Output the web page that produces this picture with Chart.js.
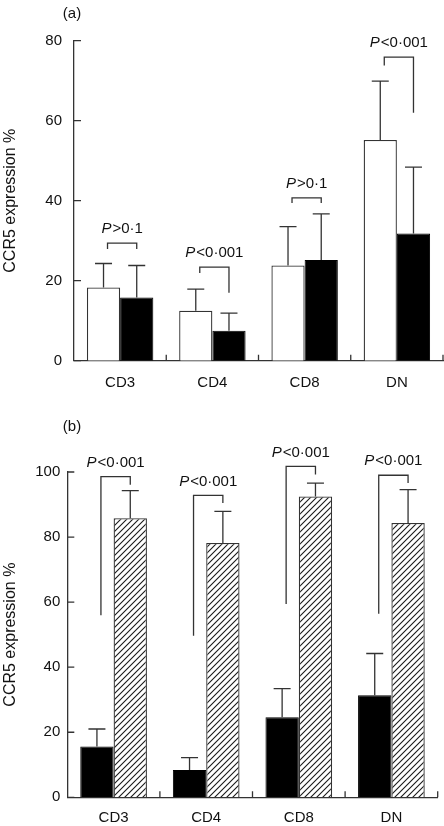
<!DOCTYPE html>
<html>
<head>
<meta charset="utf-8">
<script src="https://cdn.jsdelivr.net/npm/chart.js@4.4.1/dist/chart.umd.min.js"></script>
<style>
  body { margin: 0; background: #fff; }
  .panel { position: absolute; left: 0; width: 444px; }
</style>
</head>
<body>
<div class="panel" style="top:0;height:400px"><canvas id="chartA" width="444" height="400"></canvas></div>
<div class="panel" style="top:400px;height:426px"><canvas id="chartB" width="444" height="426"></canvas></div>
<script>
// 카테고리와 값
const cells = ['CD3', 'CD4', 'CD8', 'DN'];

// (a) 흰 막대 / 검은 막대
const aWhite = [18.3, 12.5, 23.8, 55.2];
const aWhiteSd = [6.0, 5.4, 9.7, 14.7];
const aBlack = [15.8, 7.5, 25.2, 31.8];
const aBlackSd = [8.0, 4.4, 11.5, 16.6];
const aTicks = [0, 20, 40, 60, 80];
const aPLabels = ['P>0·1', 'P<0·001', 'P>0·1', 'P<0·001'];
const aBracketTop = [29.4, 23.4, 40.7, 75.9];
const aBracketLeft = [27.9, 21.9, 39.4, 73.8];
const aBracketRight = [27.9, 17.0, 39.4, 62.0];

// (b) 검은 막대 / 빗금 막대
const bBlack = [15.6, 8.4, 24.6, 31.4];
const bBlackSd = [5.4, 3.8, 8.8, 12.8];
const bHatch = [85.8, 78.2, 92.5, 84.3];
const bHatchSd = [8.5, 9.7, 4.1, 10.3];
const bTicks = [0, 20, 40, 60, 80, 100];
const bPLabels = ['P<0·001', 'P<0·001', 'P<0·001', 'P<0·001'];
const bBracketTop = [98.6, 92.8, 101.7, 99.0];
const bBracketLeft = [56.0, 49.7, 59.4, 56.4];
const bBracketRight = [96.1, 90.5, 99.2, 96.6];

const FONT = "'Liberation Sans', Arial, sans-serif";
const INK = '#333';

// 빗금 패턴
function hatchPattern() {
  const c = document.createElement('canvas');
  c.width = 6; c.height = 6;
  const g = c.getContext('2d');
  g.fillStyle = '#fff';
  g.fillRect(0, 0, 6, 6);
  g.strokeStyle = '#1a1a1a';
  g.lineWidth = 1.1;
  g.beginPath();
  g.moveTo(-1, 7); g.lineTo(7, -1);
  g.moveTo(-1, 1); g.lineTo(1, -1);
  g.moveTo(5, 7); g.lineTo(7, 5);
  g.stroke();
  return g.createPattern(c, 'repeat');
}

// 오차막대, 안쪽 눈금, P 괄호를 그리는 플러그인
const extras = {
  id: 'extras',
  afterDraw(chart) {
    const o = chart.options.plugins.extras;
    const ctx = chart.ctx;
    const x = chart.scales.x, y = chart.scales.y;
    const area = chart.chartArea;
    ctx.save();
    ctx.strokeStyle = INK;
    ctx.lineWidth = 1.3;

    // 안쪽으로 향한 눈금
    ctx.beginPath();
    o.ticks.forEach(v => {
      const py = y.getPixelForValue(v);
      ctx.moveTo(area.left, py); ctx.lineTo(area.left + 7, py);
    });
    const step = x.getPixelForValue(1) - x.getPixelForValue(0);
    for (let i = 0; i < cells.length; i++) {
      const px = x.getPixelForValue(i) + step / 2;
      ctx.moveTo(px, area.bottom); ctx.lineTo(px, area.bottom - 6);
    }
    ctx.stroke();

    // 오차막대 (위쪽만)
    chart.data.datasets.forEach((ds, di) => {
      const meta = chart.getDatasetMeta(di);
      meta.data.forEach((bar, i) => {
        const top = y.getPixelForValue(ds.data[i] + ds.sd[i]);
        ctx.beginPath();
        ctx.moveTo(bar.x, bar.y); ctx.lineTo(bar.x, top);
        ctx.moveTo(bar.x - 8.5, top); ctx.lineTo(bar.x + 8.5, top);
        ctx.stroke();
      });
    });

    // P 괄호와 글자
    const m0 = chart.getDatasetMeta(0), m1 = chart.getDatasetMeta(1);
    o.pLabels.forEach((lab, i) => {
      const lx = m0.data[i].x + 4, rx = m1.data[i].x;
      const ty = y.getPixelForValue(o.top[i]);
      ctx.beginPath();
      ctx.moveTo(lx, y.getPixelForValue(o.left[i]));
      ctx.lineTo(lx, ty); ctx.lineTo(rx, ty);
      ctx.lineTo(rx, y.getPixelForValue(o.right[i]));
      ctx.stroke();

      const cx = (lx + rx) / 2, cy = ty - 14;
      ctx.fillStyle = '#111';
      ctx.textBaseline = 'middle';
      ctx.font = 'italic 15px ' + FONT;
      const pw = ctx.measureText('P').width;
      ctx.font = '15px ' + FONT;
      const rest = lab.slice(1);
      const rw = ctx.measureText(rest).width;
      const sx = cx - (pw + rw + 1) / 2;
      ctx.font = 'italic 15px ' + FONT;
      ctx.textAlign = 'left';
      ctx.fillText('P', sx, cy);
      ctx.font = '15px ' + FONT;
      ctx.fillText(rest, sx + pw + 1, cy);
    });

    // 패널 이름
    ctx.font = '15px ' + FONT;
    ctx.textAlign = 'center';
    ctx.fillStyle = '#111';
    ctx.fillText(o.panel, o.panelX, o.panelY);
    ctx.restore();
  }
};

function makeChart(id, sets, opt) {
  return new Chart(document.getElementById(id), {
    type: 'bar',
    data: { labels: cells, datasets: sets },
    options: {
      responsive: false,
      animation: false,
      layout: { padding: { top: opt.padTop, right: opt.padRight, left: 0, bottom: 0 } },
      datasets: { bar: { categoryPercentage: 0.72, barPercentage: 1.0 } },
      plugins: {
        legend: { display: false },
        tooltip: { enabled: false },
        extras: {
          ticks: opt.ticks, pLabels: opt.pLabels,
          top: opt.top, left: opt.left, right: opt.right,
          panel: opt.panel, panelX: 72, panelY: opt.panelY
        }
      },
      scales: {
        x: {
          grid: { display: false, drawTicks: false },
          border: { display: true, color: INK, width: 1.3 },
          ticks: { color: '#111', font: { family: FONT, size: 15 }, padding: opt.xPad },
          afterFit(s) { s.height = opt.xHeight; }
        },
        y: {
          min: 0, max: opt.ticks[opt.ticks.length - 1],
          grid: { display: false, drawTicks: false },
          border: { display: true, color: INK, width: 1.3 },
          ticks: { stepSize: 20, color: '#111', font: { family: FONT, size: 15 }, padding: opt.yPad },
          title: { display: true, text: 'CCR5 expression %', color: '#111',
                   font: { family: FONT, size: 16 }, padding: { top: 1, bottom: 0 } },
          afterFit(s) { s.width = opt.yWidth; }
        }
      }
    },
    plugins: [extras]
  });
}

makeChart('chartA', [
  { data: aWhite, sd: aWhiteSd, backgroundColor: '#fff', borderColor: INK, borderWidth: 1.3 },
  { data: aBlack, sd: aBlackSd, backgroundColor: '#000', borderColor: '#000', borderWidth: 1 }
], {
  padTop: 40.7, padRight: 1, xHeight: 39.3, yWidth: 74, yPad: 12, xPad: 13,
  ticks: aTicks, pLabels: aPLabels,
  top: aBracketTop, left: aBracketLeft, right: aBracketRight,
  panel: '(a)', panelY: 14
});

makeChart('chartB', [
  { data: bBlack, sd: bBlackSd, backgroundColor: '#000', borderColor: '#000', borderWidth: 1 },
  { data: bHatch, sd: bHatchSd, backgroundColor: hatchPattern(), borderColor: INK, borderWidth: 1.3 }
], {
  padTop: 72, padRight: 6.3, xHeight: 28.7, yWidth: 67.3, yPad: 7, xPad: 12,
  ticks: bTicks, pLabels: bPLabels,
  top: bBracketTop, left: bBracketLeft, right: bBracketRight,
  panel: '(b)', panelY: 27
});
</script>
</body>
</html>
